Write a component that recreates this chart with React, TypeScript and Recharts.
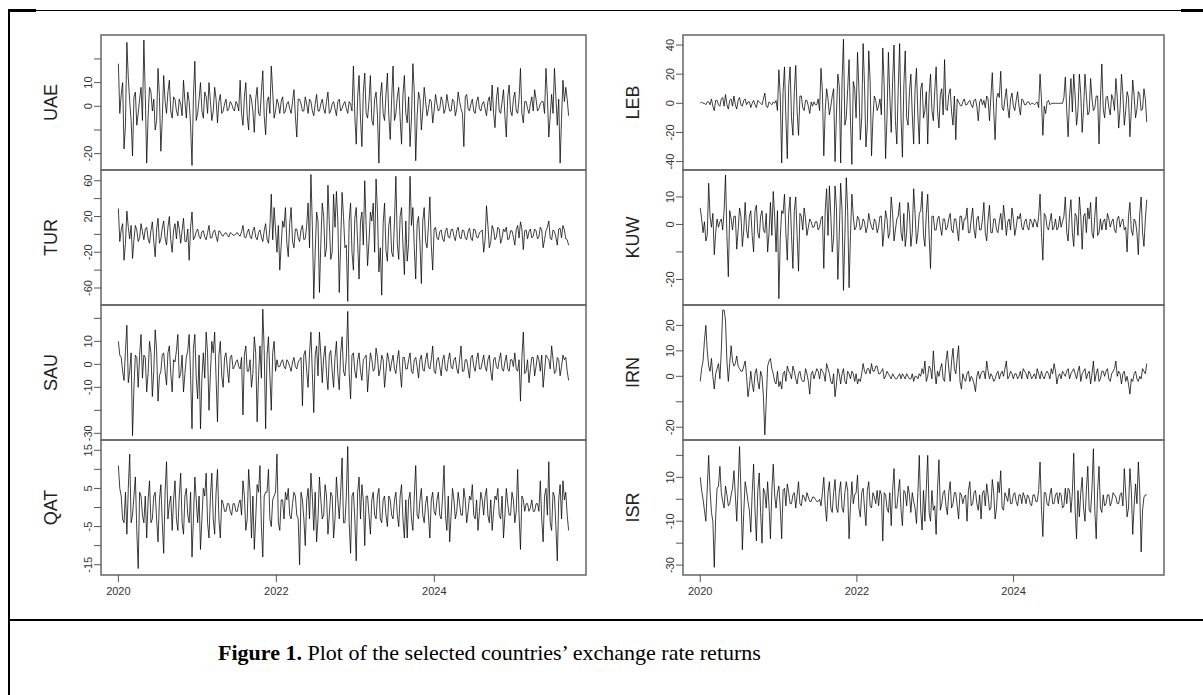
import { LineChart, Line, XAxis, YAxis, ReferenceArea } from 'recharts';

// Weekly exchange rate returns, 2020.0 – 2025.7.
// Each series = main readings + the smaller in-between wiggles (one between each pair).
const START = 2020;
const END = 2025.7;
const X_DOMAIN: [number, number] = [2019.78, 2025.92];
const YEAR_TICKS = [2020, 2022, 2024];

const uae = [
  18, 5, -18, 27, 2, -21, 6, -3, 8, 28,
  -24, 8, -2, -10, 16, -19, 13, -3, 11, -5,
  3, -4, 1, 11, -5, 2, -25, 19, -3, 10,
  -5, 4, 10, -6, 8, -7, 5, -2, 3, -1,
  1, -2, 1, 11, -8, 10, -10, 3, -11, 8,
  -4, 15, -12, 4, 17, -5, 3, -3, 4, -2,
  2, -3, 7, -13, 3, -2, 4, -3, 2, -4,
  5, -2, 3, -3, 6, -2, 2, -4, 3, -1,
  2, -3, 1, 17, -16, 13, -17, 14, -5, 13,
  -8, 6, -24, 10, -6, 14, -14, 17, -3, 8,
  -16, 13, -7, -17, 18, -23, 6, -10, 8, -4,
  3, -7, 5, -2, 4, -3, 5, -2, 3, -4,
  6, -1, -17, 5, -2, 3, -3, 4, -2, 2,
  -4, 4, 9, -9, 8, -3, 7, -13, 9, -4,
  6, -3, 16, -7, 2, -3, 4, 7, -2, 1,
  2, 16, -13, 5, 16, -8, -24, 11, 8, -4,
];
const uaeMid = [
  -3, 10, -8, 12, -6, 4, -8, 3, -6, 5,
  -4, 6, 3, -6, 4, -5, 2, 6, -2, 4,
  -2, 3, -4, 2, 6, -8, 4, -6, 3, -2,
  6, -3, 2, -2, 3, 2, -3, 1, -2, 2,
  -1, 2, -2, -3, 4, -4, 5, -2, 3, -3,
  6, -4, 2, -3, 6, -2, 1, 2, -3, 1,
  -1, 2, -4, 3, 1, -2, 1, 3, -2, 1,
  -2, 1, -1, 2, -3, 1, -1, 2, -2, 1,
  -1, 2, -2, -4, 4, -5, 6, -3, 2, -6,
  3, -4, 4, -3, 5, -4, 3, -6, 4, -5,
  5, -3, 4, -5, 6, -4, 3, -2, 2, -1,
  2, -2, 1, -1, 2, -1, 1, -2, 2, -1,
  2, -3, 4, -1, 1, -2, 2, -1, 1, -1,
  2, -2, -3, 3, -2, 2, -4, 4, -2, 3,
  -2, 3, -3, 2, -1, 1, -2, 3, -1, 2,
  -3, 4, -4, -3, 4, 3, -5, 2, 3,
];

const tur = [
  29, 5, -29, 26, -5, -27, 10, -8, 12, -6,
  8, -10, 14, -25, 18, -5, 15, -12, 20, -20,
  12, 15, -10, 18, -8, -29, 25, -3, 6, -5,
  4, -6, 10, -4, 5, -8, 3, -2, 2, -3,
  1, -1, 2, -2, 10, -4, 6, -5, 8, -6,
  5, -8, 12, -10, 45, 30, -20, -40, 15, 30,
  -25, 30, -15, 6, -8, 10, -5, 35, 67, -72,
  25, -65, 35, -25, 55, -28, 45, 48, -65, 47,
  -15, -75, 35, -40, 30, -50, 25, 60, -35, 25,
  35, 62, -42, -68, 35, -30, 20, -25, 65, -28,
  30, -45, -30, 65, 30, -50, 20, -55, 30, -15,
  42, -40, 8, -6, 5, -8, 7, -4, 6, -7,
  8, -5, 4, -6, 7, -7, 5, -4, 3, -20,
  32, -15, 10, -6, 8, -10, 6, 8, -5, 4,
  -12, 10, 14, -17, 5, 3, -4, 6, -5, 8,
  -15, 4, 15, -6, 3, -12, 7, 10, -5, -12,
];
const turMid = [
  -8, 12, -10, 8, 10, -6, 5, -4, 3, 6,
  -5, 4, -8, 6, -10, 7, -4, 8, -6, 5,
  -5, 6, 4, -8, 6, 8, -6, 3, -2, 3,
  -3, 2, -4, 3, -2, 4, -1, 1, -1, 2,
  -1, 1, -1, 3, -3, 2, -2, 4, -3, 2,
  -3, 4, -5, 8, -6, 5, 10, -12, 8, -10,
  12, -8, 6, -4, 5, -6, 10, -15, 10, -20,
  15, -10, 20, -15, 12, -20, 8, 15, -10, 20,
  -12, 15, -20, 18, -10, 15, -12, 10, -8, 15,
  -20, 25, -15, 12, -18, 10, -20, 15, -10, 20,
  -12, 15, -10, 10, -15, 12, -10, 15, -8, 10,
  -12, 6, -4, 3, -5, 4, -3, 5, -2, 4,
  -3, 5, -4, 3, -4, 6, -3, 2, 5, -6,
  10, -8, 5, -3, 6, -4, 3, -6, 4, -3,
  5, -4, 6, 4, -5, 6, -2, 4, -3, 5,
  -6, 8, -4, 5, -3, 6, -4, 5, -6,
];

const sau = [
  10, 3, -7, 17, -3, -31, 4, -10, 13, 4,
  -12, 10, -14, 15, -16, -3, 5, -9, 8, -12,
  1, 13, -4, -12, 3, 13, -28, 13, -15, -28,
  5, 14, -20, 10, 14, -25, 10, -10, 5, -8,
  4, -1, 2, -2, -22, 8, -3, -10, 12, -25,
  8, 24, -28, 12, -20, 10, 2, -1, 2, -2,
  1, -3, 3, -2, 2, -18, 6, -10, 14, -21,
  8, 14, -8, 8, -11, 6, -10, 10, -11, 12,
  -5, 23, -15, 5, -6, 5, -7, 3, -12, 5,
  -3, 7, -5, 4, -10, 5, -3, 4, -4, 6,
  -10, 3, -2, 5, -4, 3, -6, 4, -3, 5,
  -2, 8, -4, 3, -5, 4, -3, 5, -2, 3,
  -4, 8, -3, 2, -6, 4, -3, 5, -2, 4,
  -3, 4, -7, 3, -2, 5, -3, 4, -3, 2,
  5, -3, -16, 14, -3, -8, 3, -5, 4, -3,
  -10, 4, 2, 8, -4, 3, -5, 4, 3, -7,
];
const sauMid = [
  4, -3, 6, -8, 5, -10, 3, 4, -6, 3,
  -4, 5, -3, 6, -5, 4, -3, 5, -4, 2,
  6, -6, 4, -4, 6, -5, 7, -6, 4, -6,
  -6, 5, -4, 5, -6, 4, -5, 3, -2, 3,
  -2, 1, -1, 3, 4, -3, 2, -4, 5, -5,
  -6, 6, 4, -5, 5, -3, -1, 1, -1, 2,
  -1, 1, -1, 1, 3, 4, -3, 5, -4, 4,
  -5, 4, 3, -4, 4, -3, 3, -4, 5, -3,
  3, -4, 4, -3, 2, -3, 2, 4, -3, 2,
  -2, 3, -2, 2, -3, 2, 1, -2, 2, -3,
  3, -2, 2, -3, 2, -1, 2, -2, 2, -1,
  2, -3, 2, -1, 2, -2, 2, -1, 2, -2,
  2, -3, 2, -2, 3, -1, 2, -2, 1, -1,
  2, -3, 2, -1, 2, -2, 1, -2, 2, -1,
  -2, 2, 3, -4, 2, -2, 3, -1, 2, 4,
  -3, 3, -2, 2, -3, 2, -1, 2, -3,
];

const qat = [
  11, 3, -4, -7, 14, -2, 8, -16, 3, -4,
  -8, 7, -3, 4, -9, 6, -12, 12, 1, -6,
  7, -6, 9, -7, 5, -4, -13, 8, -4, -11,
  5, 9, -8, 9, -7, 10, -8, 1, -1, 1,
  -2, 1, -1, 2, 7, -6, 10, -8, -11, 6,
  11, -13, 4, 10, -5, 3, 14, -6, 2, 4,
  5, -3, 4, -2, -15, 2, -10, 5, 9, -6,
  -9, 8, -3, 6, -7, 4, -8, 8, -3, 13,
  -4, 16, -12, 4, -14, 8, 6, -10, 3, -7,
  4, -3, 5, -4, 3, -5, 2, -3, 4, -5,
  6, -8, -8, 4, -6, 11, -3, 5, -4, 3,
  -8, 4, -2, 4, -3, 11, -6, -9, 5, -3,
  4, -2, 5, -4, 3, 6, -3, -6, 4, -2,
  5, -4, -6, 3, 5, -3, -8, 5, -2, 4,
  -4, 10, -11, 2, 1, -1, 2, -1, 1, 7,
  -9, 5, 12, -6, 3, -14, 6, 7, 4, -6,
];
const qatMid = [
  5, -3, 4, 5, -4, 3, -6, 4, -2, 3,
  2, -4, 3, -3, 2, -4, 4, -3, 3, 2,
  -3, 3, -4, 3, -2, 4, -3, 2, 3, -3,
  3, -4, 3, -3, 4, -3, 2, -1, 1, -1,
  1, -1, 1, -2, 3, -3, 4, 3, -3, 4,
  -5, 3, 4, -3, 2, 4, -4, 2, -3, 2,
  -2, 1, 3, -3, 4, -3, 2, -3, 3, 4,
  -3, 2, -2, 3, -2, 3, -3, 2, 4, -4,
  3, -4, 3, -3, 4, -3, 2, 3, -2, 2,
  -2, 3, -3, 2, -2, 3, -2, 2, -2, 3,
  -3, 2, 2, -3, 3, -2, 2, -2, 1, -2,
  2, -1, 2, -2, 3, -2, 3, -2, 2, -1,
  1, -2, 2, -1, 2, -2, 2, -1, 2, 3,
  -2, 2, -1, 2, -2, 3, -2, 1, -2, 2,
  -1, -2, 3, -1, 1, 0, -1, 1, -1, -3,
  3, -2, -4, 4, -5, 2, -3, 2, -2,
];

const leb = [
  0, 0, -1, 1, 3, -5, 2, -2, 4, 6,
  -4, 3, 5, -4, 4, -2, 3, 1, -3, 2,
  -3, 1, -1, 7, -3, 0, 1, 2, 23, -41,
  25, -38, 25, -22, 26, -22, 5, -5, 2, -7,
  -2, -1, 3, 24, -36, 10, -8, 5, -40, 20,
  -41, 44, -10, 30, -42, 10, 35, -25, 41, -30,
  36, -36, 5, -5, 3, 38, -38, 35, -20, 40,
  -28, 41, -37, 36, -15, 20, -28, 24, -28, 14,
  -5, -28, 20, -12, 25, -17, 10, 30, -5, 10,
  -15, -25, 1, -2, 3, -1, 2, -3, 3, -12,
  3, 2, 5, -12, 21, -25, 7, 22, -5, 10,
  -10, 7, -5, 8, -8, 2, -1, 1, 0, -1,
  1, 20, -22, -7, 2, 0, 0, 0, 0, 0,
  18, -23, 17, 20, -15, 20, -20, 20, -8, 17,
  -5, 5, -28, 27, -10, 5, -8, 3, 17, -17,
  20, -15, 8, -23, 16, -10, 8, -5, 10, -13,
];
const lebMid = [
  1, 0, 1, -1, -2, 2, -1, 3, -2, -1,
  2, -2, -1, 2, -1, 2, -1, 1, 0, -1,
  2, 0, 3, -2, 1, -1, 0, -5, 5, 8,
  -10, 12, -10, 8, -6, 5, -3, 2, -2, 1,
  1, -1, -5, 8, -5, 3, -2, 10, -8, 12,
  15, -15, 10, -12, 15, -10, 10, -10, 12, -15,
  15, -10, 2, -2, -8, 12, -10, 5, 15, -12,
  10, -10, 12, -10, 8, -8, 10, -8, 10, -10,
  8, 6, -5, 8, -5, 6, -8, -4, 6, -6,
  5, 3, -1, 1, -1, 1, -1, 2, -2, 1,
  -1, -3, 3, 5, -5, 3, 4, -3, 3, -3,
  3, -2, 2, -2, 3, -1, 1, -1, 0, 0,
  -3, 3, -2, 1, -1, 0, 0, 0, 0, 4,
  -5, 3, -6, 5, -5, 6, -4, 5, -6, 3,
  -3, 5, 3, -4, 4, -3, 6, -5, 4, -4,
  6, -5, 4, -5, 5, -4, 6, -4, 3,
];

const kuw = [
  6, -3, -6, 15, -1, -11, 2, 1, -2, 18,
  -19, 2, 3, -9, 6, -8, 8, -5, 5, -10,
  7, -5, 5, -3, -10, 8, 12, -10, -27, 5,
  11, -13, 10, -16, 10, -17, 3, 6, -4, 2,
  -1, 1, -2, 2, -16, 13, 14, -10, 14, -20,
  15, -24, 17, -23, 11, -2, 3, -2, 2, -3,
  4, -1, 2, -3, 3, -8, 5, -5, 10, -6,
  2, 8, -6, -8, 8, -8, 13, -7, 4, 12,
  -8, 11, -16, 3, -2, 3, -4, 2, -1, 4,
  -3, 2, -6, 3, 2, 6, -3, 6, -5, 3,
  -2, 8, -6, 7, -3, 2, -3, 4, 7, -4,
  2, 6, -4, 3, 4, -2, 2, -2, 1, 2,
  -1, 11, -13, 3, -2, 4, -1, -2, 3, 1,
  10, -6, 9, -8, 3, 10, -9, 4, 6, 8,
  -5, 10, -3, -2, 2, 4, -1, 2, -3, 3,
  1, -2, -10, 8, -4, 1, -11, 10, -8, 9,
];
const kuwMid = [
  2, 1, -4, 3, 4, -3, -1, 2, 5, -4,
  5, -2, 3, -2, 3, -2, -2, 3, -4, 5,
  -3, 3, -2, 4, -3, -4, 3, 5, -5, 4,
  -3, 4, -4, 5, -4, 4, -2, 2, -1, 1,
  -1, 1, -1, 3, 5, -4, 3, -5, 6, -4,
  5, -4, 5, -4, 3, -1, 2, -1, 1, -1,
  1, -2, 1, -1, 3, -2, 2, -3, 4, -2,
  3, -3, 4, -3, 4, -3, 4, -3, 5, -4,
  4, -4, 3, -2, 2, -1, 2, -2, 2, -2,
  2, -2, 3, -2, 2, -3, 2, -2, 2, -2,
  2, -3, 2, -3, 2, -2, 1, -2, 2, 1,
  -2, 2, -1, 2, -1, 1, -1, 2, -1, 1,
  3, -3, 4, -1, 1, -2, 2, -1, -1, 3,
  -3, 4, -3, 4, -4, 3, 3, -3, 2, -3,
  3, -4, 2, 1, -2, 2, 1, -2, 2, -1,
  2, -1, 3, -2, 2, -3, 4, -3, 2,
];

const irn = [
  -2, 6, 20, 4, 7, -5, 3, -1, 26, 22,
  -2, 12, 4, 8, 3, 2, 6, -8, 2, -6,
  3, -5, 0, -23, 4, 7, 1, -3, -4, -5,
  2, 4, 1, 4, -1, 1, -1, -2, 1, -7,
  2, 1, 2, 3, 1, 5, 1, -3, -8, 3,
  -3, 3, -3, 1, 2, -2, -3, -2, 5, 1,
  3, 5, 2, 4, 1, 3, 0, 1, -1, 0,
  -1, 1, 1, -1, 0, -1, -2, 0, 1, 3,
  6, 0, 3, 10, -3, 0, 5, -2, 10, -2,
  11, 1, 12, -5, -1, 1, -2, -1, -6, 2,
  1, 2, 6, -1, 0, -1, 2, 1, 0, 6,
  0, 1, 1, -1, 2, 3, 1, 2, -1, 1,
  3, -1, 0, 1, 1, 3, 5, -3, 1, 2,
  0, 3, 1, 3, -1, 4, 1, 3, 1, -3,
  6, 1, -2, 2, 0, 3, -2, 2, 6, 2,
  -3, 2, 0, -7, -2, 2, -2, -1, 2, 5,
];
const irnMid = [
  3, 14, 10, 2, 0, 1, 5, 10, 26, 6,
  5, 6, 5, 4, 2, 4, 0, -4, -3, 1,
  -2, 2, -8, -10, 6, 3, -2, 2, -2, 1,
  -2, 2, -1, 2, -3, 2, -2, 3, -2, 1,
  -1, 3, -1, 2, -2, 3, -2, 1, -3, 1,
  1, -2, 2, -1, 1, 1, -1, 1, 2, 3,
  1, 2, 4, 1, 2, -1, 2, 0, 1, -1,
  0, -1, 0, 1, -1, 1, 0, -1, 0, 1,
  -2, 4, -1, 2, 2, 3, -1, 6, 3, 6,
  3, 7, -2, 1, -2, 2, 0, -3, 0, -1,
  2, -1, 2, 1, -2, 1, -1, 2, 3, -1,
  2, -1, 1, 0, -1, 2, -1, 1, 0, -1,
  1, 2, -1, 2, -1, 1, 2, 0, -1, 1,
  2, -1, 2, 1, 2, -2, 2, -1, 2, 1,
  -2, 3, -1, 2, 2, -1, 1, 3, 0, 1,
  1, -2, -3, -1, 1, -1, 0, 3, 1,
];

const isr = [
  10, 0, -10, 20, -6, -31, 5, 15, -1, 6,
  -3, 2, 13, -10, 24, -23, 8, -1, -15, 16,
  -19, 12, -20, 3, 8, -18, 16, -4, 6, -18,
  5, 7, -2, 2, -4, 8, -3, 1, 3, -1,
  1, 0, -1, -3, 10, -10, 8, -6, 9, -6,
  8, -6, 8, -18, 8, 2, 11, -8, 5, -12,
  8, -4, 1, 4, 4, -19, 2, -6, -12, 14,
  -4, 9, -12, 3, 6, -6, -1, -11, 20, -14,
  -10, 20, -10, -5, -16, 18, -2, 4, -7, 8,
  -2, 3, -9, 2, 1, -10, 8, -2, 4, -5,
  -9, 4, 7, -5, 9, -9, 8, 13, -5, 1,
  5, -2, 3, -3, 2, 3, -2, 1, -3, 2,
  -1, 17, -17, 3, -3, 5, -2, 3, 3, -4,
  5, 5, -6, 21, -18, -8, 10, -10, 15, -6,
  23, -18, 15, -6, -3, 2, -3, 3, 1, -2,
  3, 14, -8, 14, -16, 7, 17, -24, 1, 2,
];
const isrMid = [
  4, -5, 5, 4, -10, -8, 6, 3, -4, 2,
  -2, 5, 2, 6, 3, -6, 4, -5, 3, -5,
  4, -6, 5, -4, -3, 4, 2, 3, -4, 4,
  -3, 3, -2, 3, 2, -2, 2, -1, 1, -1,
  1, -1, 0, 3, -3, 3, -4, 3, -4, 3,
  -4, 3, 4, -3, -2, 3, -4, 3, -4, 4,
  -3, 3, -2, -3, 2, 3, -4, 3, 4, -4,
  3, -5, 4, -3, 2, 3, -4, 3, -5, 4,
  5, -6, 4, -3, 5, -5, 3, -3, 3, -4,
  3, -3, 3, -2, 2, 4, -3, 3, -2, 2,
  3, -3, 2, -4, 3, -4, 3, -4, 3, -1,
  -2, 2, -1, 2, -2, 1, 2, -2, 2, -1,
  4, -4, 3, -2, 2, -2, 2, -2, 2, -3,
  -2, 4, 3, -5, 4, 3, -4, 4, -5, 5,
  -5, 4, -4, 2, -2, 2, -1, 2, -2, 2,
  -3, 3, -4, 4, -3, -2, 4, -5, 2,
];

type PanelDef = {
  name: string;
  values: number[];
  mids: number[];
  domain: [number, number];
  ticks: number[];
  labels: number[];
};

const leftPanels: PanelDef[] = [
  { name: 'UAE', values: uae, mids: uaeMid, domain: [-26.9, 30.1], ticks: [-20, -10, 0, 10, 20], labels: [-20, 0, 10] },
  { name: 'TUR', values: tur, mids: turMid, domain: [-79, 72], ticks: [-60, -40, -20, 0, 20, 40, 60], labels: [-60, -20, 20, 60] },
  { name: 'SAU', values: sau, mids: sauMid, domain: [-32.9, 25.8], ticks: [-30, -20, -10, 0, 10, 20], labels: [-30, -10, 0, 10] },
  { name: 'QAT', values: qat, mids: qatMid, domain: [-17.7, 17.7], ticks: [-15, -10, -5, 0, 5, 10, 15], labels: [-15, -5, 5, 15] },
];

const rightPanels: PanelDef[] = [
  { name: 'LEB', values: leb, mids: lebMid, domain: [-45.8, 46.9], ticks: [-40, -20, 0, 20, 40], labels: [-40, -20, 0, 20, 40] },
  { name: 'KUW', values: kuw, mids: kuwMid, domain: [-29.3, 19.8], ticks: [-20, -10, 0, 10], labels: [-20, 0, 10] },
  { name: 'IRN', values: irn, mids: irnMid, domain: [-25, 28], ticks: [-20, -10, 0, 10, 20], labels: [-20, 0, 10, 20] },
  { name: 'ISR', values: isr, mids: isrMid, domain: [-34.5, 27], ticks: [-30, -20, -10, 0, 10, 20], labels: [-30, -10, 10] },
];

const PANEL_TOPS = [35, 170, 305, 440];
const PANEL_H = 135;
const AXIS_W = 60;
const PAD = 3;
const FONT = '"Liberation Sans", Arial, sans-serif';

function toRows(values: number[], mids: number[]) {
  const seq: number[] = [];
  values.forEach((v, i) => {
    seq.push(v);
    if (i < values.length - 1 && i < mids.length) seq.push(mids[i]);
  });
  const step = (END - START) / (seq.length - 1);
  return seq.map((v, i) => ({ t: START + i * step, v }));
}

function Panel({ p, x, w, top, showX }: { p: PanelDef; x: number; w: number; top: number; showX: boolean }) {
  const data = toRows(p.values, p.mids);
  return (
    <div style={{ position: 'absolute', left: x - AXIS_W, top: top - PAD }}>
      <LineChart
        width={AXIS_W + w + PAD}
        height={PAD + PANEL_H + (showX ? 30 : PAD)}
        data={data}
        margin={{ top: PAD, right: PAD, bottom: showX ? 0 : PAD, left: 0 }}
      >
        <XAxis
          type="number"
          dataKey="t"
          domain={X_DOMAIN}
          allowDataOverflow
          ticks={YEAR_TICKS}
          interval={0}
          hide={!showX}
          height={30}
          axisLine={false}
          tickLine={{ stroke: '#555' }}
          tickSize={7}
          tickMargin={5}
          tick={(props: any) => (
            <text x={props.x} y={props.y} dy="0.71em" textAnchor="middle" fontSize={11} fill="#333" fontFamily={FONT}>
              {props.payload.value}
            </text>
          )}
        />
        <YAxis
          type="number"
          domain={p.domain}
          allowDataOverflow
          ticks={p.ticks}
          interval={0}
          width={AXIS_W}
          axisLine={false}
          tickLine={{ stroke: '#555' }}
          tickSize={7}
          tickMargin={2}
          tick={(props: any) =>
            p.labels.includes(props.payload.value) ? (
              <text
                x={props.x}
                y={props.y}
                transform={`rotate(-90, ${props.x}, ${props.y})`}
                textAnchor="middle"
                fontSize={11}
                fill="#333"
                fontFamily={FONT}
              >
                {props.payload.value}
              </text>
            ) : (
              <g />
            )
          }
        />
        <Line
          type="linear"
          dataKey="v"
          stroke="#000"
          strokeWidth={0.75}
          dot={false}
          isAnimationActive={false}
        />
        <ReferenceArea
          x1={X_DOMAIN[0]}
          x2={X_DOMAIN[1]}
          y1={p.domain[0]}
          y2={p.domain[1]}
          fill="none"
          fillOpacity={0}
          stroke="#666"
          strokeWidth={1.5}
          ifOverflow="visible"
        />
      </LineChart>
    </div>
  );
}

const LEFT_X = 101;
const LEFT_W = 485;
const RIGHT_X = 683;
const RIGHT_W = 481;

export default function App() {
  const titles = [
    ...leftPanels.map((p, i) => ({ name: p.name, x: LEFT_X - 44, y: PANEL_TOPS[i] + PANEL_H / 2 })),
    ...rightPanels.map((p, i) => ({ name: p.name, x: RIGHT_X - 44, y: PANEL_TOPS[i] + PANEL_H / 2 })),
  ];
  return (
    <div style={{ position: 'absolute', left: 0, top: 0, width: 1203, height: 695, background: '#fff', overflow: 'hidden' }}>
      {leftPanels.map((p, i) => (
        <Panel key={p.name} p={p} x={LEFT_X} w={LEFT_W} top={PANEL_TOPS[i]} showX={i === leftPanels.length - 1} />
      ))}
      {rightPanels.map((p, i) => (
        <Panel key={p.name} p={p} x={RIGHT_X} w={RIGHT_W} top={PANEL_TOPS[i]} showX={i === rightPanels.length - 1} />
      ))}
      <svg width={1203} height={695} style={{ position: 'absolute', left: 0, top: 0, pointerEvents: 'none' }}>
        {titles.map((t) => (
          <text
            key={t.name}
            x={t.x}
            y={t.y}
            transform={`rotate(-90, ${t.x}, ${t.y})`}
            textAnchor="middle"
            fontSize={18}
            fill="#222"
            fontFamily={FONT}
          >
            {t.name}
          </text>
        ))}
        {/* table borders */}
        <line x1={8} y1={10.5} x2={1203} y2={10.5} stroke="#000" strokeWidth={1} />
        <rect x={8} y={9} width={28} height={3} fill="#000" />
        <rect x={1181} y={9} width={22} height={3} fill="#000" />
        <line x1={9} y1={9} x2={9} y2={695} stroke="#000" strokeWidth={2} />
        <line x1={8} y1={620} x2={1203} y2={620} stroke="#000" strokeWidth={2} />
        <text x={218} y={660} fontSize={22} fontFamily='"Liberation Serif", "Times New Roman", serif' fill="#000">
          <tspan fontWeight="bold">Figure 1.</tspan>
          <tspan> Plot of the selected countries’ exchange rate returns</tspan>
        </text>
      </svg>
    </div>
  );
}
